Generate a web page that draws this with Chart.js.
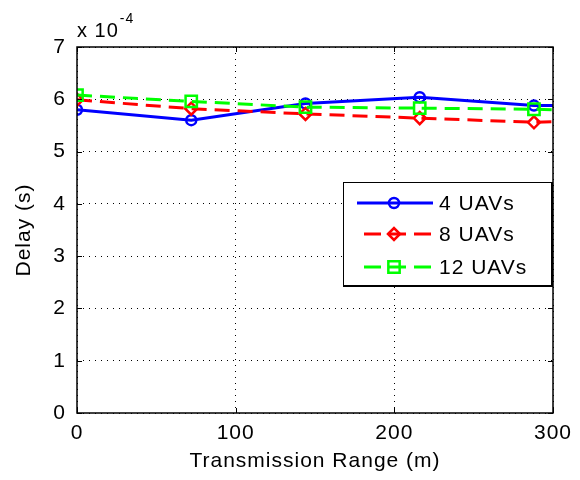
<!DOCTYPE html>
<html>
<head>
<meta charset="utf-8">
<script src="https://cdn.jsdelivr.net/npm/chart.js@4.4.1/dist/chart.umd.min.js"></script>
<style>
html,body{margin:0;padding:0;background:#fff;}
#wrap{width:580px;height:480px;}
</style>
</head>
<body>
<div id="wrap"><canvas id="c" width="580" height="480"></canvas></div>
<script>
// Data (delay in seconds)
const rangeX = [0, 72, 144, 216, 288, 300];
const delay4 = [5.80e-4, 5.60e-4, 5.92e-4, 6.04e-4, 5.88e-4, 5.88e-4];
const delay8 = [5.99e-4, 5.82e-4, 5.72e-4, 5.64e-4, 5.56e-4, 5.57e-4];
const delay12 = [6.08e-4, 5.96e-4, 5.85e-4, 5.83e-4, 5.81e-4, 5.80e-4];
const seriesNames = ['4 UAVs', '8 UAVs', '12 UAVs'];
const xTicks = [0, 100, 200, 300];
const yTicks = [0, 1, 2, 3, 4, 5, 6, 7];
const yScaleExp = -4;

const FONT = 'Liberation Sans, Arial, sans-serif';
const markerR = [5, 5, 5, 5, 5, 0];
const diamondR = [6, 6, 6, 6, 6, 0];
const squareR = [8, 8, 8, 8, 8, 0];

function pts(vals) { return rangeX.map((x, i) => ({x: x, y: vals[i]})); }

const styles = [
  {color: '#0000ff', dash: [], pointStyle: 'circle', radius: markerR, lr: 5},
  {color: '#ff0000', dash: [15, 8], pointStyle: 'rectRot', radius: diamondR, lr: 6},
  {color: '#00ff00', dash: [15, 8], pointStyle: 'rect', radius: squareR, lr: 8}
];
const seriesVals = [delay4, delay8, delay12];

const datasets = seriesVals.map((v, i) => ({
  label: seriesNames[i],
  data: pts(v),
  borderColor: styles[i].color,
  backgroundColor: 'rgba(0,0,0,0)',
  pointBackgroundColor: 'rgba(0,0,0,0)',
  pointBorderColor: styles[i].color,
  borderWidth: 3,
  pointBorderWidth: 2.5,
  borderDash: styles[i].dash,
  pointStyle: styles[i].pointStyle,
  pointRadius: styles[i].radius,
  tension: 0,
  order: 3 - i
}));

const spacingPlugin = {
  id: 'spacing',
  beforeDraw(chart) { chart.ctx.letterSpacing = '1px'; }
};

const framePlugin = {
  id: 'frame',
  afterDraw(chart) {
    const ctx = chart.ctx;
    const a = chart.chartArea;
    const xs = chart.scales.x, ys = chart.scales.y;
    ctx.save();
    ctx.letterSpacing = '1px';
    // tick marks inside
    ctx.strokeStyle = '#000';
    ctx.lineWidth = 1;
    ctx.setLineDash([]);
    ctx.beginPath();
    xTicks.forEach(t => {
      const px = Math.round(xs.getPixelForValue(t)) + 0.5;
      ctx.moveTo(px, a.bottom); ctx.lineTo(px, a.bottom - 5);
      ctx.moveTo(px, a.top); ctx.lineTo(px, a.top + 5);
    });
    yTicks.forEach(t => {
      const py = Math.round(ys.getPixelForValue(t * Math.pow(10, yScaleExp))) + 0.5;
      ctx.moveTo(a.left, py); ctx.lineTo(a.left + 5, py);
      ctx.moveTo(a.right, py); ctx.lineTo(a.right - 5, py);
    });
    ctx.stroke();
    // box
    ctx.lineWidth = 1.5;
    ctx.strokeRect(a.left, a.top, a.right - a.left, a.bottom - a.top);
    // exponent label
    ctx.fillStyle = '#000';
    ctx.textBaseline = 'alphabetic';
    ctx.textAlign = 'left';
    ctx.font = '20px ' + FONT;
    ctx.fillText('x 10', a.left, a.top - 10);
    const w = ctx.measureText('x 10').width;
    ctx.font = '14px ' + FONT;
    ctx.fillText(String(yScaleExp), a.left + w + 1, a.top - 24);
    // legend
    const lx = a.right - 210, ly = a.top + 135, lw = 210, lh = 105;
    ctx.fillStyle = '#fff';
    ctx.fillRect(lx, ly, lw, lh);
    ctx.strokeStyle = '#000';
    ctx.lineWidth = 1;
    ctx.strokeRect(lx + 0.5, ly + 0.5, lw - 1, lh - 1);
    ctx.lineWidth = 2;
    ctx.beginPath();
    ctx.moveTo(lx + lw - 1, ly); ctx.lineTo(lx + lw - 1, ly + lh);
    ctx.moveTo(lx, ly + lh - 1); ctx.lineTo(lx + lw, ly + lh - 1);
    ctx.stroke();
    const rows = [ly + 21, ly + 52, ly + 85];
    seriesNames.forEach((name, i) => {
      const st = styles[i];
      const y = rows[i];
      ctx.save();
      ctx.strokeStyle = st.color;
      ctx.lineWidth = 3;
      ctx.setLineDash(st.dash.length ? [17, 8] : []);
      ctx.lineDashOffset = st.dash.length ? -7 : 0;
      ctx.beginPath();
      ctx.moveTo(lx + 14, y); ctx.lineTo(lx + 90, y);
      ctx.stroke();
      ctx.setLineDash([]);
      ctx.restore();
      ctx.save();
      ctx.strokeStyle = st.color;
      ctx.fillStyle = 'rgba(0,0,0,0)';
      ctx.lineWidth = 2.5;
      Chart.helpers.drawPoint(ctx, {pointStyle: st.pointStyle, radius: st.lr, rotation: 0, borderWidth: 2.5}, lx + 51, y);
      ctx.restore();
      ctx.fillStyle = '#000';
      ctx.font = '21px ' + FONT;
      ctx.textBaseline = 'middle';
      ctx.textAlign = 'left';
      ctx.fillText(name, lx + 96, y + 1);
    });
    ctx.restore();
  }
};

new Chart(document.getElementById('c'), {
  type: 'line',
  data: {datasets: datasets},
  plugins: [spacingPlugin, framePlugin],
  options: {
    responsive: false,
    animation: false,
    devicePixelRatio: 1,
    layout: {padding: {top: 47, right: 27, left: 0, bottom: 0}},
    plugins: {legend: {display: false}, tooltip: {enabled: false}},
    scales: {
      x: {
        type: 'linear',
        min: 0, max: 300,
        afterFit(s) { s.height = 67; },
        afterBuildTicks(s) { s.ticks = xTicks.map(v => ({value: v})); },
        ticks: {color: '#000', font: {family: FONT, size: 21}, padding: 8, maxRotation: 0},
        grid: {color: '#000', lineWidth: 1, drawTicks: false},
        border: {display: false, dash: [1, 5]},
        title: {display: true, text: 'Transmission Range (m)', color: '#000', font: {family: FONT, size: 21}, padding: {top: 0, bottom: 6}}
      },
      y: {
        type: 'linear',
        min: 0, max: 7e-4,
        afterFit(s) { s.width = 77; },
        afterBuildTicks(s) { s.ticks = yTicks.map(v => ({value: v * Math.pow(10, yScaleExp)})); },
        ticks: {color: '#000', font: {family: FONT, size: 21}, padding: 11,
          callback: (v) => String(Math.round(v / Math.pow(10, yScaleExp)))},
        grid: {color: '#000', lineWidth: 1, drawTicks: false},
        border: {display: false, dash: [1, 5]},
        title: {display: true, text: 'Delay (s)', color: '#000', font: {family: FONT, size: 21}, padding: {top: 12, bottom: 0}}
      }
    }
  }
});
</script>
</body>
</html>
